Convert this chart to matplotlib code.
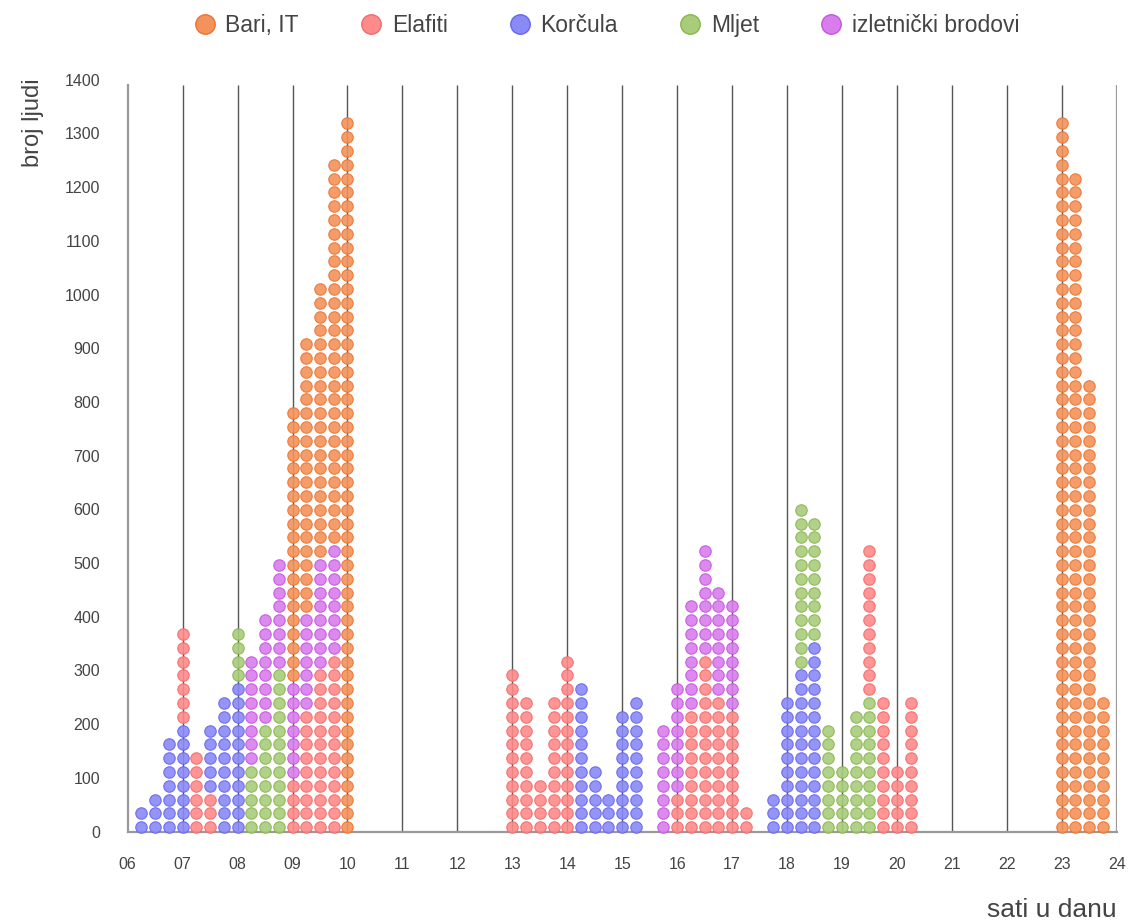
import matplotlib
matplotlib.use('Agg')
import matplotlib.pyplot as plt
from matplotlib.lines import Line2D

plt.rcParams['font.family'] = ['Liberation Sans', 'DejaVu Sans']

# categories and colours (face, edge)
categories = ['Bari, IT', 'Elafiti', 'Korčula', 'Mljet', 'izletnički brodovi']
face_colors = ['#F3935B', '#FF8A8A', '#8A8AF7', '#A9CC7B', '#D97DED']
edge_colors = ['#EC7430', '#F26B6B', '#6666EE', '#88B64E', '#C555E0']

# one dot = one step of people, stacked from the bottom
dot_step = 25.7
dot_base = 8

# 15-minute slots and what is stacked in each (bottom -> top)
slots = ['06:15', '06:30', '06:45', '07:00', '07:15', '07:30', '07:45', '08:00',
         '08:15', '08:30', '08:45', '09:00', '09:15', '09:30', '09:45', '10:00',
         '13:00', '13:15', '13:30', '13:45', '14:00', '14:15', '14:30', '14:45',
         '15:00', '15:15', '15:45', '16:00', '16:15', '16:30', '16:45', '17:00',
         '17:15', '17:45', '18:00', '18:15', '18:30', '18:45', '19:00', '19:15',
         '19:30', '19:45', '20:00', '20:15', '23:00', '23:15', '23:30', '23:45']
stacks = [
    [('Korčula', 2)], [('Korčula', 3)], [('Korčula', 7)],
    [('Korčula', 8), ('Elafiti', 7)], [('Elafiti', 6)],
    [('Elafiti', 3), ('Korčula', 5)], [('Korčula', 10)],
    [('Korčula', 11), ('Mljet', 4)],
    [('Mljet', 5), ('izletnički brodovi', 8)],
    [('Mljet', 8), ('izletnički brodovi', 8)],
    [('Mljet', 12), ('izletnički brodovi', 8)],
    [('Elafiti', 4), ('izletnički brodovi', 7), ('Bari, IT', 20)],
    [('Elafiti', 9), ('izletnički brodovi', 7), ('Bari, IT', 20)],
    [('Elafiti', 12), ('izletnički brodovi', 8), ('Bari, IT', 20)],
    [('Elafiti', 13), ('izletnički brodovi', 8), ('Bari, IT', 28)],
    [('Bari, IT', 52)],
    [('Elafiti', 12)], [('Elafiti', 10)], [('Elafiti', 4)], [('Elafiti', 10)],
    [('Elafiti', 13)], [('Korčula', 11)], [('Korčula', 5)], [('Korčula', 3)],
    [('Korčula', 9)], [('Korčula', 10)],
    [('izletnički brodovi', 8)],
    [('Elafiti', 3), ('izletnički brodovi', 8)],
    [('Elafiti', 9), ('izletnički brodovi', 8)],
    [('Elafiti', 13), ('izletnički brodovi', 8)],
    [('Elafiti', 10), ('izletnički brodovi', 8)],
    [('Elafiti', 9), ('izletnički brodovi', 8)],
    [('Elafiti', 2)],
    [('Korčula', 3)], [('Korčula', 10)],
    [('Korčula', 12), ('Mljet', 12)],
    [('Korčula', 14), ('Mljet', 9)],
    [('Mljet', 8)], [('Mljet', 5)], [('Mljet', 9)],
    [('Mljet', 10), ('Elafiti', 11)],
    [('Elafiti', 10)], [('Elafiti', 5)], [('Elafiti', 10)],
    [('Bari, IT', 52)], [('Bari, IT', 48)], [('Bari, IT', 33)], [('Bari, IT', 10)],
]

hour_ticks = list(range(6, 25))
y_ticks = list(range(0, 1401, 100))


def to_hours(s):
    h, m = s.split(':')
    return int(h) + int(m) / 60


# collect dot positions per category
pts = {c: ([], []) for c in categories}
for slot, stack in zip(slots, stacks):
    x = to_hours(slot)
    k = 0
    for cat, n in stack:
        for i in range(n):
            pts[cat][0].append(x)
            pts[cat][1].append(dot_base + dot_step * k)
            k += 1

fig = plt.figure(figsize=(11.29, 9.24), dpi=100)
ax = fig.add_axes([0.1131, 0.1001, 0.876, 0.8136])

ax.set_xlim(6, 24)
ax.set_ylim(0, 1400)
top = 1390

ax.vlines(hour_ticks[1:-1], 0, top, color='#555555', lw=1, zorder=1)
ax.vlines([24], 0, top, color='#999999', lw=1.6, zorder=1)

for cat, fc, ec in zip(categories, face_colors, edge_colors):
    xs, ys = pts[cat]
    ax.scatter(xs, ys, s=68, facecolor=fc, edgecolor=ec, linewidth=0.8,
               alpha=0.9, zorder=3, clip_on=False)

for side in ['top', 'right']:
    ax.spines[side].set_visible(False)
for side in ['left', 'bottom']:
    ax.spines[side].set_color('#999999')
    ax.spines[side].set_linewidth(1.6)
ax.spines['left'].set_bounds(0, top)

ax.set_xticks(hour_ticks)
ax.set_xticklabels(['%02d' % h for h in hour_ticks])
ax.set_yticks(y_ticks)
ax.tick_params(axis='x', length=0, pad=18, labelsize=11.5, labelcolor='#444444')
ax.tick_params(axis='y', length=0, pad=20, labelsize=11.5, labelcolor='#444444')

fig.text(33 / 1129, 1 - 78 / 924, 'broj ljudi', rotation=90, ha='center', va='top',
         fontsize=17, color='#444444')
fig.text(1117 / 1129, 1 - 910 / 924, 'sati u danu', ha='right', va='center',
         fontsize=19, color='#444444')

handles = [Line2D([], [], ls='none', marker='o', markersize=14, markerfacecolor=fc,
                  markeredgecolor=ec, markeredgewidth=1)
           for fc, ec in zip(face_colors, edge_colors)]
fig.legend(handles, categories, loc='upper center', bbox_to_anchor=(0.537, 1.007),
           ncol=5, frameon=False, fontsize=16.5, handlelength=1, handletextpad=0.4,
           columnspacing=2.65, labelcolor='#444444')

fig.savefig('out.png', dpi=100)
